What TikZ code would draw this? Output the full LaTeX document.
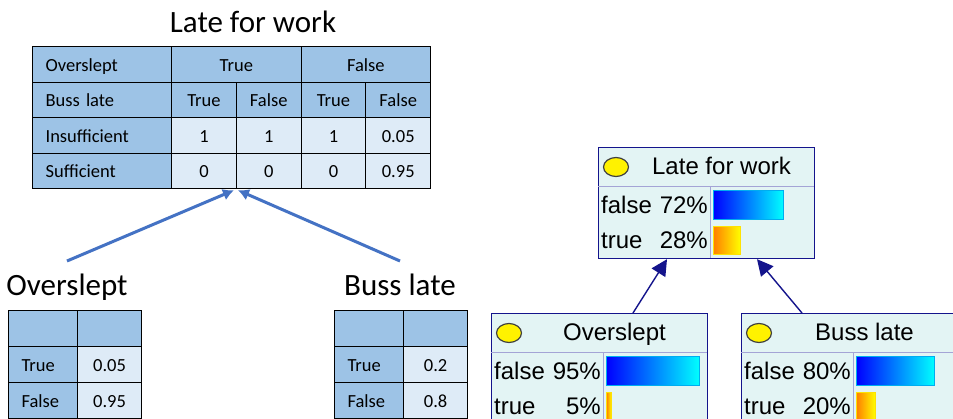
\documentclass[tikz,border=0pt]{standalone}
\usepackage{fontspec}
\setmainfont{Carlito}
\newfontfamily\netfont{Liberation Sans}
\usetikzlibrary{arrows.meta,calc}

\definecolor{cptdark}{HTML}{9DC3E6}
\definecolor{cptlight}{HTML}{DEEBF7}
\definecolor{cptblue}{HTML}{4472C4}
\definecolor{netfill}{HTML}{E3F4F4}
\definecolor{netedge}{HTML}{14148C}
\definecolor{netdiv}{HTML}{A4A4D6}

\tikzset{
  cptcell/.style={draw=black, line width=1.2pt, anchor=north west, inner sep=0pt,
    font=\fontsize{18.5}{22}\selectfont, text height=18pt, text depth=4pt,
    minimum height=35.5},
  dkcell/.style={cptcell, fill=cptdark},
  ltcell/.style={cptcell, fill=cptlight},
  rowhd/.style={dkcell, inner xsep=13pt, text width=#1, align=left},
  bigtxt/.style={font=\fontsize{31}{36}\selectfont, anchor=base, inner sep=0pt},
  cptarrow/.style={draw=cptblue, line width=3pt, -{Latex[length=11pt,width=12pt]}},
  netbox/.style={draw=netedge, line width=1.2pt, fill=netfill, anchor=north west,
    inner sep=0pt, minimum width=216, minimum height=111},
  netdivline/.style={draw=netdiv, line width=0.8pt},
  nettxt/.style={font=\netfont\fontsize{24}{28}\selectfont, inner sep=0pt},
  netarrow/.style={draw=netedge, line width=1.4pt, -{Triangle[length=16pt,width=16pt]}},
  posbar/.style={draw=cyan, line width=0.8pt, left color=blue, right color=cyan},
  negbar/.style={draw=yellow!85!orange, line width=0.8pt, left color=orange, right color=yellow},
  bulb/.style={draw=gray!50!black, fill=yellow, line width=1.2pt},
}

\begin{document}
\begin{tikzpicture}[x=1pt, y=-1pt]
  \path[fill=white, use as bounding box] (0,0) rectangle (953,418);
  \clip (0,0) rectangle (953,418);

  % CPT of Late for work
  \node[bigtxt] (lfwlbl) at (253,32) {Late for work};
  \node[rowhd=113pt, minimum width=139] (bovl) at (32,46) {Overslept};
  \node[dkcell, minimum width=129.5] (btrue) at (171,46) {True};
  \node[dkcell, minimum width=129.5] (bfalse) at (300.5,46) {False};
  \node[rowhd=113pt, minimum width=139] (bbus) at (32,81.5) {Buss late};
  \foreach \v [count=\i from 0] in {True,False,True,False}
    \node[dkcell, minimum width=64.75] (bb\i) at (171+64.75*\i,81.5) {\v};
  \node[rowhd=113pt, minimum width=139] (bins) at (32,117) {Insufficient};
  \foreach \v [count=\i from 0] in {1,1,1,0.05}
    \node[ltcell, minimum width=64.75] (ins\i) at (171+64.75*\i,117) {\v};
  \node[rowhd=113pt, minimum width=139] (bsuf) at (32,152.5) {Sufficient};
  \foreach \v [count=\i from 0] in {0,0,0,0.95}
    \node[ltcell, minimum width=64.75] (suf\i) at (171+64.75*\i,152.5) {\v};

  % CPT of Overslept
  \node[bigtxt] (ovllbl) at (67,295) {Overslept};
  \node[dkcell, minimum width=69, minimum height=36] (ovh0) at (8,310) {};
  \node[dkcell, minimum width=64, minimum height=36] (ovh1) at (77,310) {};
  \node[rowhd=43pt, minimum width=69, minimum height=36] (ovt) at (8,346) {True};
  \node[ltcell, minimum width=64, minimum height=36] (ovtv) at (77,346) {0.05};
  \node[rowhd=43pt, minimum width=69, minimum height=36] (ovf) at (8,382) {False};
  \node[ltcell, minimum width=64, minimum height=36] (ovfv) at (77,382) {0.95};

  % CPT of Buss late
  \node[bigtxt] (buslbl) at (400,295) {Buss late};
  \node[dkcell, minimum width=69, minimum height=36] (bsh0) at (334,310) {};
  \node[dkcell, minimum width=64, minimum height=36] (bsh1) at (403,310) {};
  \node[rowhd=43pt, minimum width=69, minimum height=36] (bst) at (334,346) {True};
  \node[ltcell, minimum width=64, minimum height=36] (bstv) at (403,346) {0.2};
  \node[rowhd=43pt, minimum width=69, minimum height=36] (bsf) at (334,382) {False};
  \node[ltcell, minimum width=64, minimum height=36] (bsfv) at (403,382) {0.8};

  \coordinate (lfwin) at (suf0.south east);
  \coordinate (ovltail) at (67,261);
  \coordinate (bustail) at (400,261);
  \draw[cptarrow] (ovltail) -- ($(lfwin)+(-3,1)$);
  \draw[cptarrow] (bustail) -- ($(lfwin)+(1,1)$);

  % network view
  \foreach \n/\x/\y/\ttl/\fp/\tp/\fw/\tw in {lfw/598/147/Late for work/72/28/70/27,
      ovl/491/313/Overslept/95/5/93/5, bus/741/313/Buss late/80/20/78/19} {
    \node[netbox] (\n) at (\x,\y) {};
    \draw[netdivline] (\x,\y+39) -- (\x+216,\y+39);
    \draw[netdivline] (\x+112.5,\y+39) -- (\x+112.5,\y+111);
    \draw[bulb] (\x+18,\y+20) ellipse [x radius=12.5, y radius=9.5];
    \node[nettxt, anchor=base] (\n ttl) at (\x+123.5,\y+27) {\ttl};
    \node[nettxt, anchor=base west] (\n f) at (\x+3,\y+66) {false};
    \node[nettxt, anchor=base east] (\n fp) at (\x+110,\y+66) {\fp\%};
    \node[nettxt, anchor=base west] (\n t) at (\x+3,\y+101) {true};
    \node[nettxt, anchor=base east] (\n tp) at (\x+110,\y+101) {\tp\%};
    \draw[posbar] (\x+115.5,\y+43) rectangle (\x+115.5+\fw,\y+72);
    \draw[negbar] (\x+115.5,\y+79) rectangle (\x+115.5+\tw,\y+107);
  }
  \draw[netarrow] ($(ovl.north west)+(142,0)$) -- ($(lfw.south west)+(69,0)$);
  \draw[netarrow] ($(bus.north west)+(61,0)$) -- ($(lfw.south west)+(159,0)$);
\end{tikzpicture}
\end{document}
